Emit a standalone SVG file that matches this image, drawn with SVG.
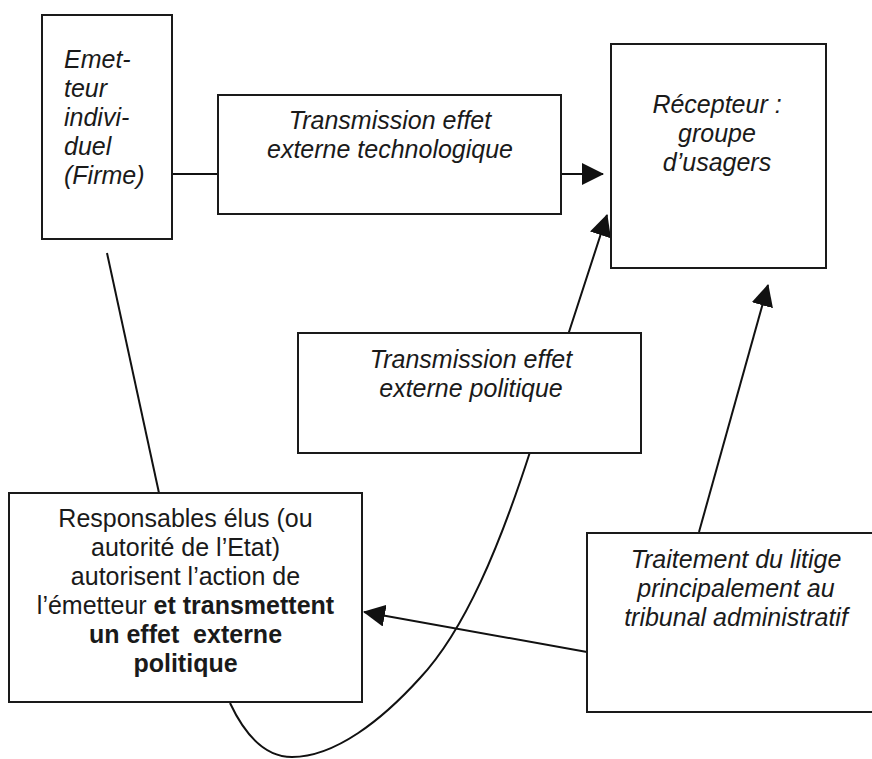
<svg xmlns="http://www.w3.org/2000/svg" width="872" height="759" viewBox="0 0 872 759">
<defs>
<style>
.box{fill:#fff;stroke:#1a1a1a;stroke-width:2}
.ln{fill:none;stroke:#111;stroke-width:2}
.t{font-family:"Liberation Sans",Arial,sans-serif;font-size:25px;fill:#1a1a1a}
.i{font-style:italic}
.c{text-anchor:middle}
.b{font-weight:bold}
</style>
<marker id="ah" markerUnits="userSpaceOnUse" markerWidth="22" markerHeight="22" refX="21" refY="11" orient="auto">
<path d="M0,0 L22,11 L0,22 z" fill="#111"/>
</marker>
</defs>
<rect width="872" height="759" fill="#fff"/>
<g id="connectors">
<line class="ln" x1="172" y1="174" x2="218" y2="174"/>
<line class="ln" x1="561" y1="174" x2="603" y2="174" marker-end="url(#ah)"/>
<line class="ln" x1="107" y1="253" x2="159" y2="493"/>
<path class="ln" d="M230,703 C245,735 265,757 292,757 C335,757 382,720 420,678 C465,630 500,545 530,452 L607,215" marker-end="url(#ah)"/>
<line class="ln" x1="699" y1="532" x2="768" y2="285" marker-end="url(#ah)"/>
<line class="ln" x1="587" y1="652" x2="364" y2="612" marker-end="url(#ah)"/>
</g>
<g id="emetteur">
<rect class="box" x="42" y="15" width="130" height="224"/>
<text class="t i" x="64" y="68">Emet-</text>
<text class="t i" x="64" y="97">teur</text>
<text class="t i" x="64" y="126">indivi-</text>
<text class="t i" x="64" y="155">duel</text>
<text class="t i" x="64" y="184">(Firme)</text>
</g>
<g id="transmission-technologique">
<rect class="box" x="218" y="95" width="343" height="119"/>
<text class="t i c" x="390" y="129">Transmission effet</text>
<text class="t i c" x="390" y="158">externe technologique</text>
</g>
<g id="recepteur">
<rect class="box" x="611" y="44" width="215" height="224"/>
<text class="t i c" x="717" y="113">Récepteur :</text>
<text class="t i c" x="717" y="142">groupe</text>
<text class="t i c" x="717" y="171">d’usagers</text>
</g>
<g id="transmission-politique">
<rect class="box" x="298" y="333" width="343" height="120"/>
<text class="t i c" x="471" y="368">Transmission effet</text>
<text class="t i c" x="471" y="397">externe politique</text>
</g>
<g id="responsables">
<rect class="box" x="9" y="493" width="353" height="209"/>
<text class="t c" x="185.5" y="527">Responsables élus (ou</text>
<text class="t c" x="185.5" y="556">autorité de l’Etat)</text>
<text class="t c" x="185.5" y="585">autorisent l’action de</text>
<text class="t c" x="185.5" y="614">l’émetteur <tspan class="b">et transmettent</tspan></text>
<text class="t c b" x="185.5" y="643" style="white-space:pre">un effet  externe</text>
<text class="t c b" x="185.5" y="672">politique</text>
</g>
<g id="traitement">
<rect class="box" x="587" y="533" width="300" height="179"/>
<text class="t i c" x="736" y="568">Traitement du litige</text>
<text class="t i c" x="736" y="597">principalement au</text>
<text class="t i c" x="736" y="626">tribunal administratif</text>
</g>
</svg>
